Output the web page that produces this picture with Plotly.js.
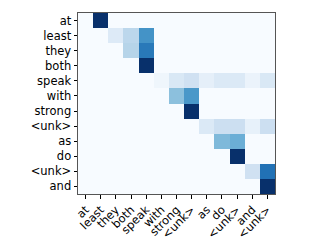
<!DOCTYPE html>
<html><head><meta charset="utf-8">
<script src="https://cdn.plot.ly/plotly-3.0.1.min.js"></script>
<style>html,body{margin:0;padding:0;background:#fff;}</style>
</head><body>
<div id="chart" style="width:332px;height:249px;"></div>
<script>
const sourceTokens = ["at","least","they","both","speak","with","strong","<unk>","as","do","<unk>","and","<unk>"];
const targetTokens = ["at","least","they","both","speak","with","strong","<unk>","as","do","<unk>","and"];
const attention = [
  [0,1.0,0,0,0,0,0,0,0,0,0,0,0],
  [0,0,0.13,0.28,0.62,0,0,0,0,0,0,0,0],
  [0,0,0,0.3,0.72,0,0,0,0,0,0,0,0],
  [0,0,0,0,1.0,0,0,0,0,0,0,0,0],
  [0,0,0,0,0,0.04,0.15,0.2,0.09,0.14,0.14,0.06,0.15],
  [0,0,0,0,0,0,0.42,0.6,0,0,0,0,0],
  [0,0,0,0,0,0,0,1.0,0,0,0,0,0],
  [0,0,0,0,0,0,0,0,0.14,0.22,0.22,0.08,0.22],
  [0,0,0,0,0,0,0,0,0,0.45,0.5,0,0],
  [0,0,0,0,0,0,0,0,0,0,1.0,0,0],
  [0,0,0,0,0,0,0,0,0,0,0,0.2,0.75],
  [0,0,0,0,0,0,0,0,0,0,0,0,1.0]
];
const blues = [[0,'#f7fbff'],[0.125,'#deebf7'],[0.25,'#c6dbef'],[0.375,'#9ecae1'],[0.5,'#6baed6'],[0.625,'#4292c6'],[0.75,'#2171b5'],[0.875,'#08519c'],[1,'#08306b']];
const xIdx = sourceTokens.map((_, i) => i);
const yIdx = targetTokens.map((_, i) => i);
Plotly.newPlot('chart', [{
  type: 'heatmap', z: attention, x: xIdx, y: yIdx,
  colorscale: blues, zmin: 0, zmax: 1, showscale: false
}], {
  width: 332, height: 249,
  margin: {l: 78, r: 57, t: 13, b: 55},
  paper_bgcolor: '#fff', plot_bgcolor: '#fff',
  font: {family: 'DejaVu Sans', size: 11.5, color: '#000'},
  xaxis: {tickmode: 'array', tickvals: xIdx, ticktext: sourceTokens, tickangle: -45,
    range: [-0.5, 12.5], ticks: 'outside', ticklen: 3.5, tickcolor: '#000', showgrid: false,
    zeroline: false, showline: true, mirror: true, linecolor: '#555', linewidth: 1},
  yaxis: {tickmode: 'array', tickvals: yIdx, ticktext: targetTokens,
    range: [11.5, -0.5], ticks: 'outside', ticklen: 3.5, tickcolor: '#000', showgrid: false,
    zeroline: false, showline: true, mirror: true, linecolor: '#555', linewidth: 1}
}, {staticPlot: true});
</script>
</body></html>
